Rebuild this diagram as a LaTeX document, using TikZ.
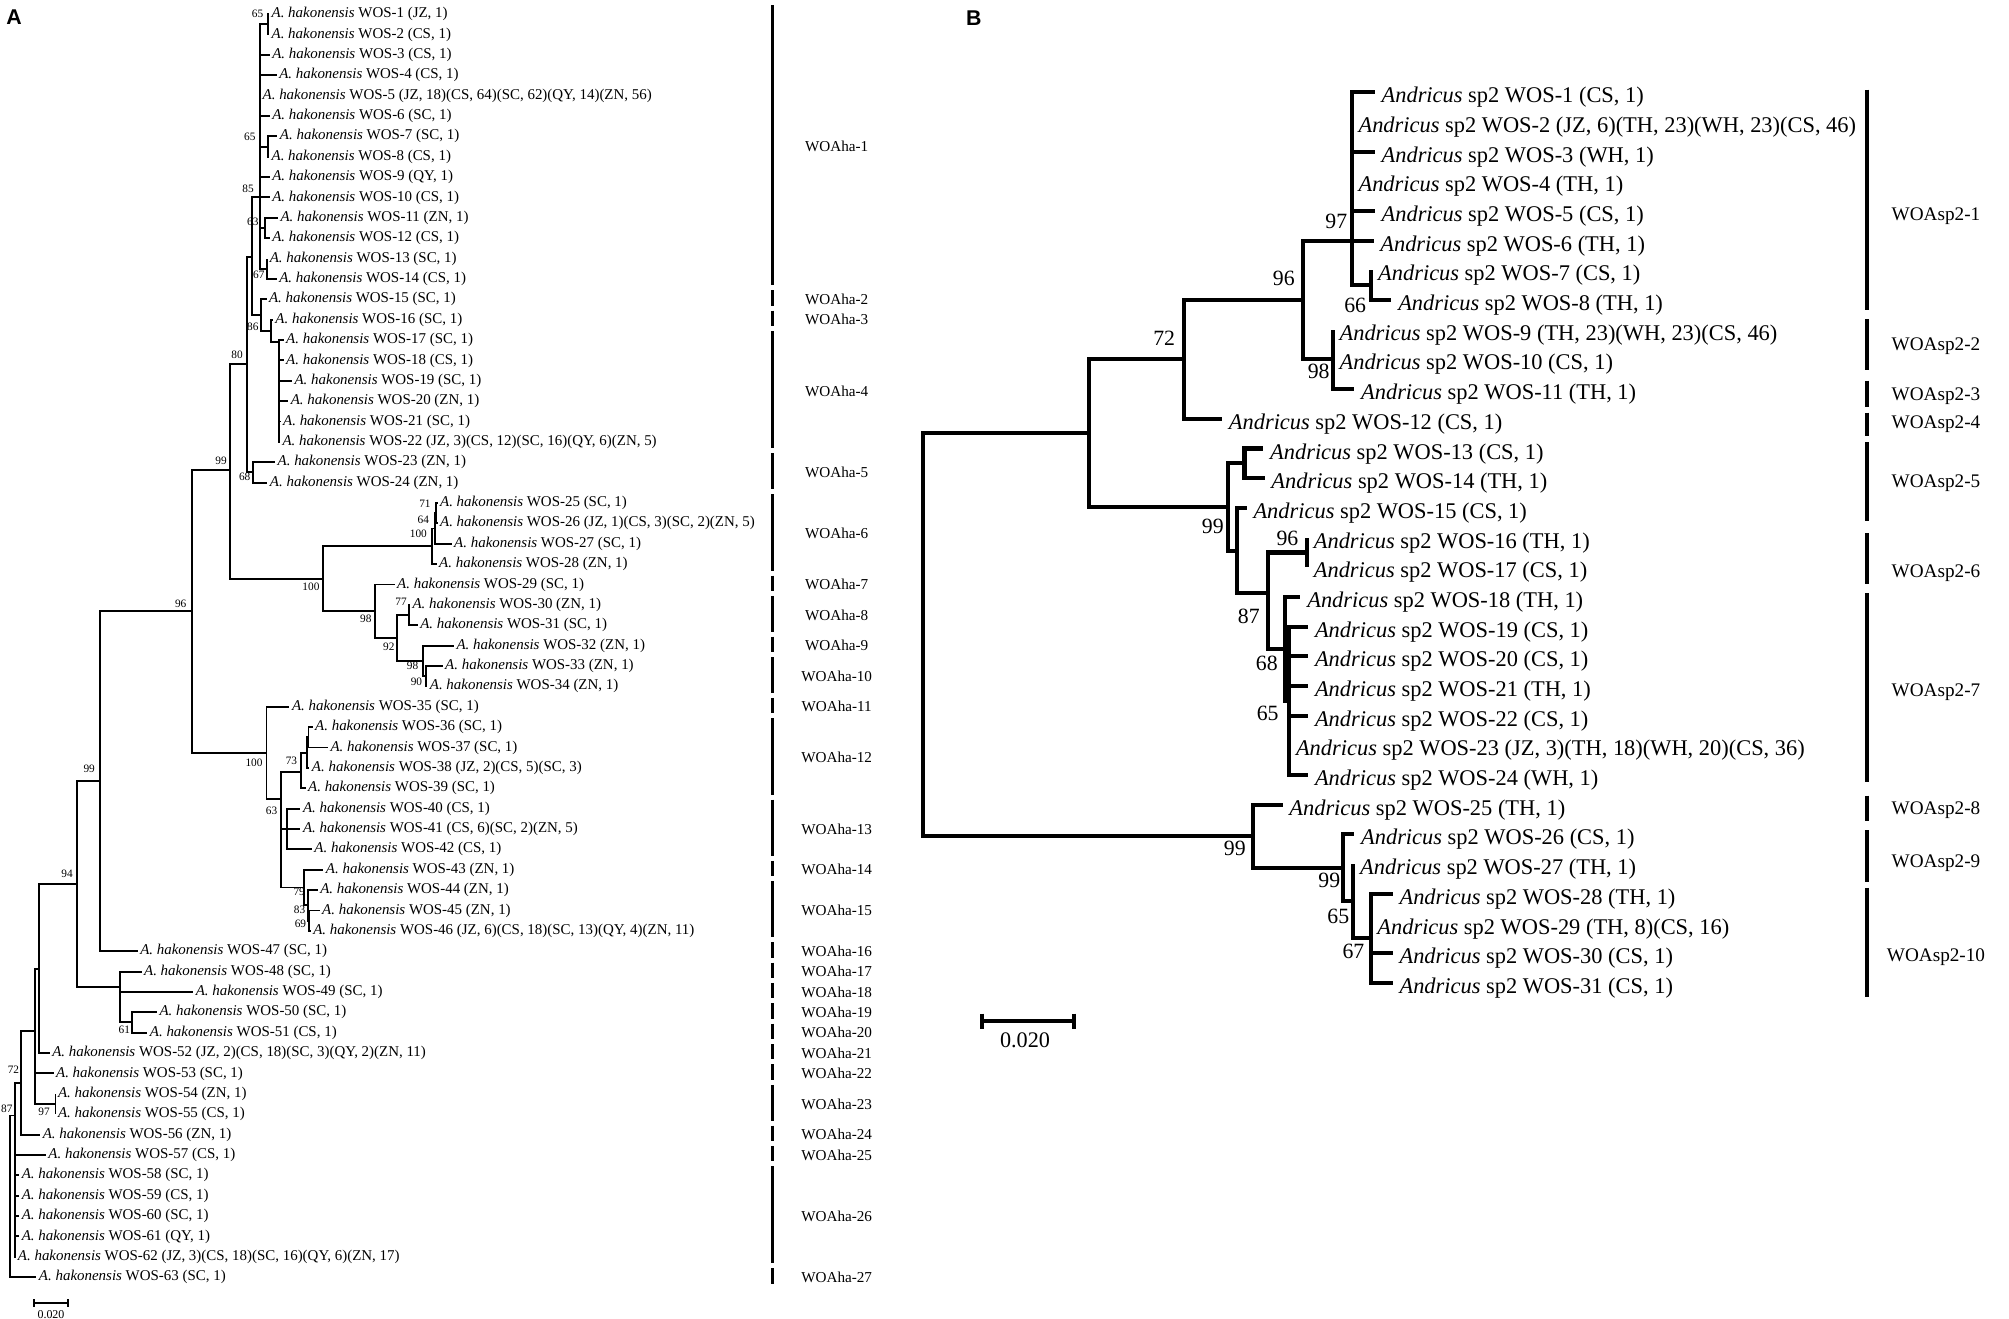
\documentclass[tikz,border=0pt]{standalone}
\usepackage{fontspec}
\setmainfont{Liberation Serif}
\newfontfamily\panelfont{Liberation Sans}
\begin{document}
\begin{tikzpicture}[x=0.6pt,y=-0.6pt,
  leafA/.style={anchor=west, inner xsep=1pt, inner ysep=0pt, font=\fontsize{7}{8}\selectfont},
  bsA/.style={inner sep=0pt, font=\fontsize{5.3}{6}\selectfont},
  treeA/.style={line width=0.9pt},
  barA/.style={line width=1.6pt},
  cladeA/.style={inner sep=0pt, font=\fontsize{7.1}{8}\selectfont},
  leafB/.style={anchor=west, inner xsep=3pt, inner ysep=0pt, font=\fontsize{10.5}{12}\selectfont},
  bsB/.style={inner sep=0pt, font=\fontsize{10.2}{12}\selectfont},
  treeB/.style={line width=1.9pt},
  barB/.style={line width=2pt},
  cladeB/.style={inner sep=0pt, font=\fontsize{9}{11}\selectfont},
  panel/.style={inner sep=0pt, font=\panelfont\bfseries\fontsize{10}{12}\selectfont}]
\useasboundingbox (0,0) rectangle (1568,1029);
\fill[white] (0,0) rectangle (1568,1029);

\node[panel] (LA) at (11,13) {A};
\node[panel] (LB) at (760,14) {B};

% ---------------- Panel A leaves
\foreach \i/\x/\lab in {1/210/{(JZ, 1)},2/210/{(CS, 1)},3/210.5/{(CS, 1)},4/216/{(CS, 1)},
 5/203/{(JZ, 18)(CS, 64)(SC, 62)(QY, 14)(ZN, 56)},6/210.5/{(SC, 1)},7/216.5/{(SC, 1)},8/210/{(CS, 1)},
 9/210.5/{(QY, 1)},10/210.5/{(CS, 1)},11/217/{(ZN, 1)},12/210.5/{(CS, 1)},13/208.6/{(SC, 1)},
 14/216/{(CS, 1)},15/208/{(SC, 1)},16/213/{(SC, 1)},17/221.4/{(SC, 1)},18/221.4/{(CS, 1)},
 19/227.9/{(SC, 1)},20/225/{(ZN, 1)},21/219/{(SC, 1)},22/218.5/{(JZ, 3)(CS, 12)(SC, 16)(QY, 6)(ZN, 5)},
 23/214.7/{(ZN, 1)},24/208.7/{(ZN, 1)},25/341.5/{(SC, 1)},26/341.5/{(JZ, 1)(CS, 3)(SC, 2)(ZN, 5)},
 27/352.5/{(SC, 1)},28/340.8/{(ZN, 1)},29/308/{(SC, 1)},30/320/{(ZN, 1)},31/326/{(SC, 1)},
 32/354.3/{(ZN, 1)},33/345.5/{(ZN, 1)},34/333.5/{(ZN, 1)},35/225.9/{(SC, 1)},36/244/{(SC, 1)},
 37/256/{(SC, 1)},38/241.5/{(JZ, 2)(CS, 5)(SC, 3)},39/238.5/{(SC, 1)},40/234.5/{(CS, 1)},
 41/234.5/{(CS, 6)(SC, 2)(ZN, 5)},42/243.4/{(CS, 1)},43/252.4/{(ZN, 1)},44/248/{(ZN, 1)},
 45/249.5/{(ZN, 1)},46/242.5/{(JZ, 6)(CS, 18)(SC, 13)(QY, 4)(ZN, 11)},47/107.5/{(SC, 1)},
 48/110.5/{(SC, 1)},49/150.8/{(SC, 1)},50/122.5/{(SC, 1)},51/115/{(CS, 1)},
 52/38.8/{(JZ, 2)(CS, 18)(SC, 3)(QY, 2)(ZN, 11)},53/41.8/{(SC, 1)},54/43.3/{(ZN, 1)},
 55/43.3/{(CS, 1)},56/31.4/{(ZN, 1)},57/35.8/{(CS, 1)},58/15/{(SC, 1)},59/15/{(CS, 1)},
 60/15/{(SC, 1)},61/15/{(QY, 1)},62/12/{(JZ, 3)(CS, 18)(SC, 16)(QY, 6)(ZN, 17)},63/28.4/{(SC, 1)}}
 {\node[leafA] (a\i) at (\x,{11+(\i-1)*15.9}) {\textit{A. hakonensis} WOS-\i\ \lab};}

% ---------------- Panel A internal nodes
\coordinate (pR) at (7.5,933.7);
\coordinate (p87) at (11.4,870.6);
\coordinate (p72) at (16.5,845);
\coordinate (p26) at (27.5,805);
\coordinate (p30) at (30.5,756);
\coordinate (p97) at (43.3,861.7);
\coordinate (p94) at (60.2,690);
\coordinate (p99r) at (78,609.7);
\coordinate (p48) at (94,770.6);
\coordinate (p61) at (103.2,798);
\coordinate (p96) at (149.9,477);
\coordinate (p99) at (179.5,366.9);
\coordinate (p80) at (192.5,284);
\coordinate (pX) at (196.4,200.3);
\coordinate (p85) at (202.9,153.6);
\coordinate (p65a) at (209.4,19);
\coordinate (p65b) at (209.4,114.4);
\coordinate (p63) at (206.8,178);
\coordinate (p67) at (208.6,209.7);
\coordinate (p86) at (203.4,245.8);
\coordinate (p16) at (211.4,258);
\coordinate (p17) at (217.4,266.6);
\coordinate (p68) at (197.7,368.7);
\coordinate (p100a) at (252.3,451.7);
\coordinate (p25) at (337,426.4);
\coordinate (p64) at (339.6,412.5);
\coordinate (p71) at (340.5,400.5);
\coordinate (p98) at (292.5,477);
\coordinate (p92) at (309.5,497.9);
\coordinate (p77) at (319.4,480);
\coordinate (p98b) at (330.5,515.8);
\coordinate (p90) at (332.5,527.7);
\coordinate (p100b) at (208,587.6);
\coordinate (p63b) at (219.2,623.6);
\coordinate (p73) at (234.9,602.6);
\coordinate (p36) at (239.3,587.4);
\coordinate (p36b) at (240.8,575.5);
\coordinate (p40) at (224,647);
\coordinate (p43) at (237.5,692.7);
\coordinate (p79) at (240.3,706.6);
\coordinate (p83) at (241.5,718.5);

\foreach \p/\c in {pR/p87,pR/a63.west,
 p87/p72,p87/a57.west,p87/a58.west,p87/a59.west,p87/a60.west,p87/a61.west,p87/a62.west,
 p72/p26,p72/a56.west,p26/p30,p26/a53.west,p26/p97,p30/p94,p30/a52.west,
 p97/a54.west,p97/a55.west,p94/p99r,p94/p48,p99r/p96,p99r/a47.west,
 p48/a48.west,p48/a49.west,p48/p61,p61/a50.west,p61/a51.west,
 p96/p99,p96/p100b,p99/p80,p99/p100a,p80/pX,p80/p68,pX/p85,pX/p86,
 p85/p65a,p85/a3.west,p85/a4.west,p85/a5.west,p85/a6.west,p85/p65b,p85/a9.west,p85/a10.west,p85/p63,p85/p67,
 p65a/a1.west,p65a/a2.west,p65b/a7.west,p65b/a8.west,p63/a11.west,p63/a12.west,p67/a13.west,p67/a14.west,
 p86/a15.west,p86/p16,p16/a16.west,p16/p17,
 p17/a17.west,p17/a18.west,p17/a19.west,p17/a20.west,p17/a21.west,p17/a22.west,
 p68/a23.west,p68/a24.west,p100a/p25,p100a/p98,p25/p64,p25/a28.west,p64/p71,p64/a27.west,
 p71/a25.west,p71/a26.west,p98/a29.west,p98/p92,p92/p77,p92/p98b,p77/a30.west,p77/a31.west,
 p98b/a32.west,p98b/p90,p90/a33.west,p90/a34.west,p100b/a35.west,p100b/p63b,
 p63b/p73,p63b/p40,p63b/p43,p73/p36,p73/a39.west,p36/p36b,p36/a38.west,p36b/a36.west,p36b/a37.west,
 p40/a40.west,p40/a41.west,p40/a42.west,p43/a43.west,p43/p79,p79/a44.west,p79/p83,p83/a45.west,p83/a46.west}
 {\draw[treeA] (\p) |- (\c);}

% bootstrap values A
\foreach \x/\y/\v [count=\k] in {201/10.4/65,195/107/65,193.6/147/85,197.3/173/63,202/214.6/67,
 197.3/255/86,185/277/80,172.5/360/99,191/372/68,331.7/392.9/71,330.4/405.9/64,326.5/416.8/100,
 242.7/457.9/100,285.5/482.6/98,313/470/77,303.5/504.7/92,322/520/98,325/532/90,141/471/96,
 198.3/595/100,227.5/594/73,212/633/63,233.5/696/79,233.8/710/83,234.5/720.7/69,69.6/600/99,
 52.3/681.7/94,97/804/61,10.5/835/72,34.4/867.6/97,5.3/865/87}
 {\node[bsA] (ba\k) at (\x,\y) {\v};}

% clade bars A
\foreach \k/\a/\b in {1/1/14,2/15/15,3/16/16,4/17/22,5/23/24,6/25/28,7/29/29,8/30/31,9/32/32,
 10/33/34,11/35/35,12/36/39,13/40/42,14/43/43,15/44/46,16/47/47,17/48/48,18/49/49,19/50/50,
 20/51/51,21/52/52,22/53/53,23/54/55,24/56/56,25/57/57,26/58/62,27/63/63}
 {\coordinate (cat\k) at (603,{11+(\a-1)*15.9-7});
  \coordinate (cab\k) at (603,{11+(\b-1)*15.9+5});
  \draw[barA] (cat\k) -- (cab\k);
  \node[cladeA] (ca\k) at (653,{11+(\a+\b-2)*15.9/2}) {WOAha-\k};}

% scale bar A
\coordinate (sa1) at (26.3,1017);
\coordinate (sa2) at (53.2,1017);
\draw[treeA] (sa1) -- (sa2);
\draw[treeA] ([yshift=1.8pt]sa1) -- ([yshift=-1.8pt]sa1);
\draw[treeA] ([yshift=1.8pt]sa2) -- ([yshift=-1.8pt]sa2);
\node[inner sep=0pt, font=\fontsize{5.6}{6}\selectfont] (sal) at (39.8,1026) {0.020};

% ---------------- Panel B leaves
\foreach \j/\x/\lab in {1/1073/{(CS, 1)},2/1055/{(JZ, 6)(TH, 23)(WH, 23)(CS, 46)},3/1073/{(WH, 1)},
 4/1055/{(TH, 1)},5/1073/{(CS, 1)},6/1072/{(TH, 1)},7/1070.3/{(CS, 1)},8/1086/{(TH, 1)},
 9/1040.2/{(TH, 23)(WH, 23)(CS, 46)},10/1040.2/{(CS, 1)},11/1057/{(TH, 1)},12/953.8/{(CS, 1)},
 13/986/{(CS, 1)},14/987/{(TH, 1)},15/973/{(CS, 1)},16/1020.1/{(TH, 1)},17/1020.1/{(CS, 1)},
 18/1015/{(TH, 1)},19/1021/{(CS, 1)},20/1021/{(CS, 1)},21/1021/{(TH, 1)},22/1021/{(CS, 1)},
 23/1006.2/{(JZ, 3)(TH, 18)(WH, 20)(CS, 36)},24/1021/{(WH, 1)},25/1001/{(TH, 1)},26/1057/{(CS, 1)},
 27/1056.3/{(TH, 1)},28/1087/{(TH, 1)},29/1069.7/{(TH, 8)(CS, 16)},30/1087/{(CS, 1)},31/1087/{(CS, 1)}}
 {\coordinate (bt\j) at (\x,{76+(\j-1)*23.17-4});
  \node[leafB] (b\j) at (\x,{76+(\j-1)*23.17}) {\textit{Andricus} sp2 WOS-\j\ \lab};}

% ---------------- Panel B internal nodes
\coordinate (qR) at (720.5,495.4);
\coordinate (q1) at (850.1,338.1);
\coordinate (q72) at (923.9,280.5);
\coordinate (q96) at (1017.3,234.2);
\coordinate (q97) at (1055,187.9);
\coordinate (q66) at (1070.3,222.6);
\coordinate (q98) at (1040.2,280.5);
\coordinate (q99a) at (958.2,395.7);
\coordinate (q13) at (971.3,361.6);
\coordinate (q15) at (965.8,429.7);
\coordinate (q87) at (989.5,463);
\coordinate (q96b) at (1020.1,431.2);
\coordinate (q68) at (1002.8,506.5);
\coordinate (q65) at (1006.2,547);
\coordinate (q99c) at (977.8,652.7);
\coordinate (q99d) at (1048.5,677.3);
\coordinate (q65b) at (1056.3,703.4);
\coordinate (q67) at (1069.7,732.4);

\foreach \p/\c in {qR/q1,qR/q99c,q1/q72,q1/q99a,q72/q96,q72/bt12,q96/q97,q96/q98,
 q97/bt1,q97/bt2,q97/bt3,q97/bt4,q97/bt5,q97/bt6,q97/q66,q66/bt7,q66/bt8,
 q98/bt9,q98/bt10,q98/bt11,q99a/q13,q99a/q15,q13/bt13,q13/bt14,q15/bt15,q15/q87,
 q87/q96b,q87/q68,q96b/bt16,q96b/bt17,q68/bt18,q68/q65,
 q65/bt19,q65/bt20,q65/bt21,q65/bt22,q65/bt23,q65/bt24,
 q99c/bt25,q99c/q99d,q99d/bt26,q99d/q65b,q65b/bt27,q65b/q67,
 q67/bt28,q67/bt29,q67/bt30,q67/bt31}
 {\draw[treeB] (\p) |- (\c);}

% bootstrap values B
\foreach \x/\y/\v [count=\k] in {1043/173/97,1002/217.2/96,1057.7/238/66,1029.2/290/98,908.6/264/72,
 946.6/411/99,1004.8/420/96,974.7/481.3/87,988.7/517.7/68,989.4/556.7/65,963.7/662.1/99,
 1037.5/686.8/99,1044.5/715.5/65,1056.3/742.8/67}
 {\node[bsB] (bb\k) at (\x,\y) {\v};}

% clade bars B
\foreach \k/\ya/\yb/\yl in {1/70/242/169,2/249/289/270,3/297/318/309,4/322/340/331,5/345/407/377,
 6/416/456/447,7/463/610/540,8/621/641/632,9/648/688/674,10/693/778/747}
 {\coordinate (cbt\k) at (1457,\ya);
  \coordinate (cbb\k) at (1457,\yb);
  \draw[barB] (cbt\k) -- (cbb\k);
  \node[cladeB] (cb\k) at (1511,\yl) {WOAsp2-\k};}

% scale bar B
\coordinate (sb1) at (766.5,797);
\coordinate (sb2) at (838.4,797);
\draw[treeB] (sb1) -- (sb2);
\draw[treeB] ([yshift=3.5pt]sb1) -- ([yshift=-3.5pt]sb1);
\draw[treeB] ([yshift=3.5pt]sb2) -- ([yshift=-3.5pt]sb2);
\node[inner sep=0pt, font=\fontsize{10.4}{12}\selectfont] (sbl) at (800,812) {0.020};
\end{tikzpicture}
\end{document}
